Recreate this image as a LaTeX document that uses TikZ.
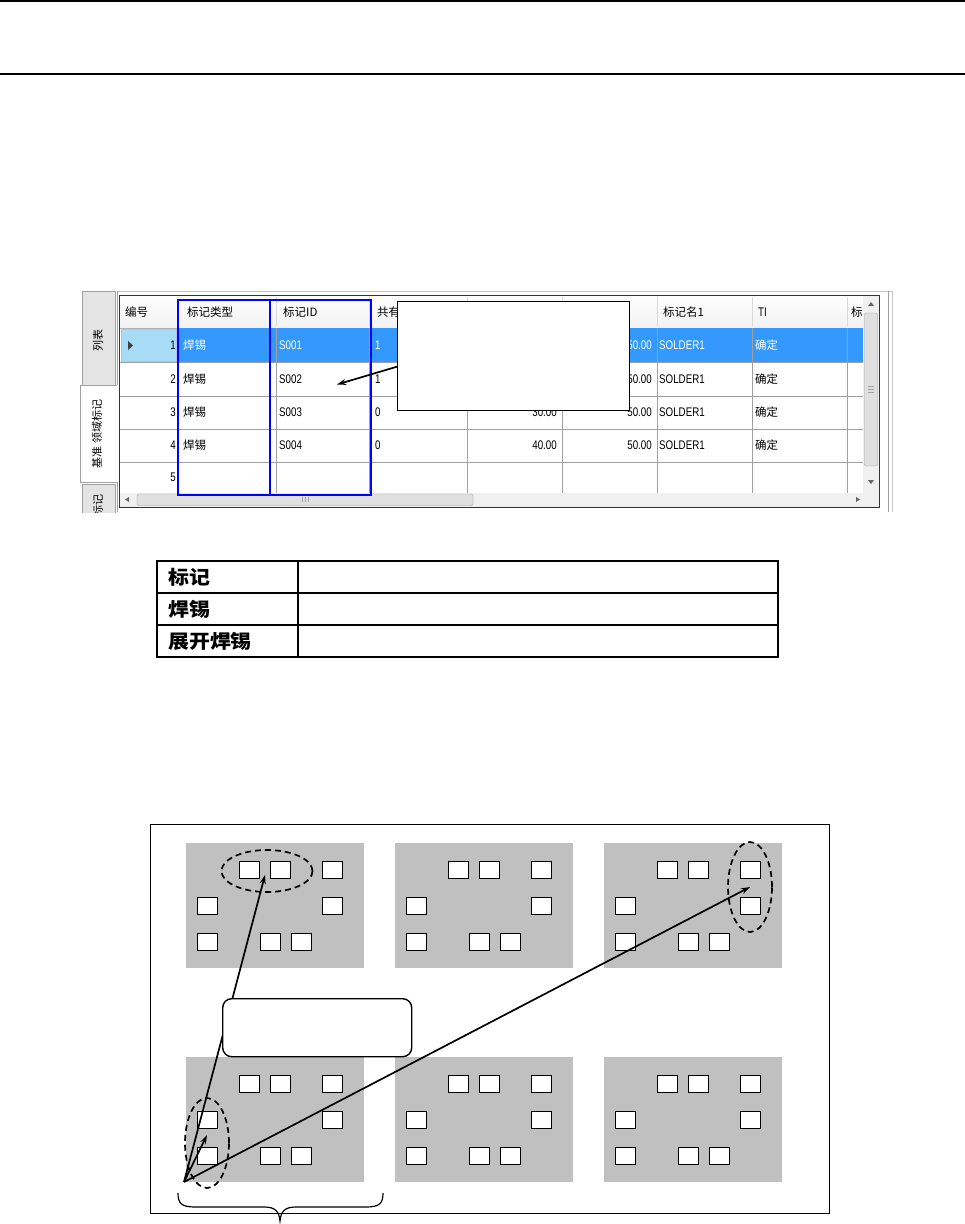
\documentclass[tikz,border=0pt]{standalone}
\usepackage{fontspec}
\usetikzlibrary{shapes.geometric,arrows.meta,calc}
\newfontfamily\cjk{Noto Sans CJK SC}
\newfontfamily\cjkwide[FakeStretch=1.1]{Noto Sans CJK SC}
\newfontfamily\uifont[FakeStretch=0.78]{Liberation Sans}
\definecolor{selblue}{HTML}{3399FF}
\definecolor{rowhdr}{HTML}{A8DCF6}
\definecolor{gridln}{HTML}{A0A0A0}
\definecolor{panelgray}{HTML}{C0C0C0}
\definecolor{tabgray}{HTML}{E4E4E4}
\definecolor{hdrbg}{HTML}{F2F2F2}
\definecolor{scrollbg}{HTML}{F0F0F0}
\definecolor{thumbc}{HTML}{E0E0E0}
\tikzset{
  panel/.style={fill=panelgray, minimum width=178, minimum height=125, inner sep=0, anchor=north west},
  pad/.style={draw=black, fill=white, line width=1.8, minimum width=20, minimum height=17, inner sep=0, anchor=north west},
  ell/.style={ellipse, draw=black, line width=1.7, dash pattern=on 6pt off 4pt, inner sep=0},
  arr/.style={line width=1.7, -{Stealth[length=9pt,width=6pt]}},
  hdrtxt/.style={font=\cjk\fontsize{11.5}{11.5}\selectfont, anchor=west, inner sep=0},
  celltxt/.style={font=\cjk\fontsize{11.5}{11.5}\selectfont, anchor=west, inner sep=0},
  numtxt/.style={font=\uifont\fontsize{12.5}{12.5}\selectfont, inner sep=0},
  tabtxt/.style={font=\cjk\fontsize{11}{11}\selectfont, rotate=90, inner sep=0},
  tbllabel/.style={font=\cjkwide\bfseries\fontsize{19}{19}\selectfont, anchor=west, inner sep=0},
}
\begin{document}
\begin{tikzpicture}[x=1pt,y=-1pt]
\useasboundingbox (0,0) rectangle (965,1224);
\fill[white] (0,0) rectangle (965,1224);

% header rules
\draw[line width=1.4] (0,1) -- (965,1) (0,74) -- (965,74);

% ================= screenshot =================
\begin{scope}
\clip (76,289) rectangle (895,512);
\draw[gridln!60] (118,291.5) -- (893,291.5);
\draw[gridln] (888,291) -- (888,512);
\draw[gridln!60] (892,291) -- (892,512);
% tabs
\draw[gridln, fill=tabgray] (82,291) rectangle (115,385);
\node[tabtxt] (tab1) at (98,340) {列表};
\draw[gridln, fill=white] (117,385) -- (80,385) -- (80,482) -- (117,482);
\node[tabtxt] (tab2) at (97,434) {基准 领域标记};
\draw[gridln, fill=tabgray] (82,484) rectangle (115,520);
\node[tabtxt, anchor=east] (tab3) at (98,494) {标记};
\draw[gridln] (117,291) -- (117,385) (117,482) -- (117,512);
% grid background
\fill[white] (119,295) rectangle (879,507);
\shade[top color=white, bottom color=hdrbg] (119,295) rectangle (863,328);
\foreach \x in {177,276,369,467,562,657,752,847} \draw[black!15] (\x,297) -- (\x,326);
\draw[gridln!80] (119,328) -- (863,328);
% selected row
\fill[selblue] (177,328) rectangle (863,362);
\draw[rowhdr!70!blue!60!white, fill=rowhdr] (121,329) rectangle (176,361);
\fill[black!75] (128,341) -- (133,345.5) -- (128,350) -- cycle;
% grid lines
\foreach \y in {362,396,429,462} \draw[gridln] (119,\y) -- (863,\y);
\foreach \x in {177,276,369,467,562,657,752,847} \draw[gridln] (\x,328) -- (\x,493);
% horizontal scrollbar
\fill[scrollbg] (119,493) rectangle (879,507);
\draw[gridln, fill=thumbc, rounded corners=2] (137,494) rectangle (473,505.5);
\foreach \x in {302,305,308} \draw[gridln] (\x,497) -- (\x,502);
\fill[black!60] (129,497) -- (125,499.5) -- (129,502) -- cycle;
\fill[black!60] (856,497) -- (860,499.5) -- (856,502) -- cycle;
% vertical scrollbar
\fill[scrollbg] (863,295) rectangle (879,493);
\draw[gridln, fill=thumbc, rounded corners=2] (864.5,313) rectangle (877.5,466);
\foreach \y in {386,389,392} \draw[gridln] (868,\y) -- (874,\y);
\fill[black!60] (868,306) -- (871,302) -- (874,306) -- cycle;
\fill[black!60] (868,480) -- (871,484) -- (874,480) -- cycle;
% border
\draw[black!80] (119,295) rectangle (879,507);
% header texts
\node[hdrtxt] (h1) at (125,312) {编号};
\node[hdrtxt] (h2) at (187,312) {标记类型};
\node[hdrtxt] (h3) at (283,312) {标记ID};
\node[hdrtxt] (h4) at (377,312) {共有};
\node[hdrtxt] (h7) at (663,312) {标记名1};
\node[numtxt, anchor=west] (h8) at (758,312) {TI};
\node[hdrtxt] (h9) at (851,312) {标};
% rows
\foreach \r/\y/\id/\sh in {1/345/S001/1, 2/379/S002/1, 3/412.5/S003/0, 4/445.5/S004/0} {
  \ifnum\r=1 \def\tc{white}\else\def\tc{black}\fi
  \node[numtxt, anchor=east] (n\r) at (176,\y) {\r};
  \node[celltxt, text=\tc] (t\r) at (183,\y) {焊锡};
  \node[numtxt, anchor=west, text=\tc] (id\r) at (279,\y) {\id};
  \node[numtxt, anchor=west, text=\tc] (sh\r) at (375,\y) {\sh};
  \node[numtxt, anchor=east, text=\tc] (v\r) at (652,\y) {50.00};
  \node[numtxt, anchor=west, text=\tc] (nm\r) at (659,\y) {SOLDER1};
  \node[celltxt, text=\tc] (ok\r) at (755,\y) {确定};
}
\node[numtxt, anchor=east] (n5) at (176,477.5) {5};
\node[numtxt, anchor=east] (w3) at (557,412.5) {30.00};
\node[numtxt, anchor=east] (w4) at (557,445.5) {40.00};
% blue frames
\draw[blue, line width=2.6] (178,300) rectangle (270,495);
\draw[blue, line width=2.6] (270,300) rectangle (371,495);
% callout
\node[draw=black, fill=white, line width=1.3, minimum width=232, minimum height=109, anchor=north west, inner sep=0] (cb) at (397,301) {};
\coordinate (a2) at (337,384.5);
\draw[arr] ([yshift=-10.5pt]cb.west) -- (a2);
\end{scope}

% ================= small table =================
\draw[line width=1.1] (157,561) rectangle (778,657);
\draw[line width=1.1] (157,593) -- (778,593) (157,625) -- (778,625) (298,561) -- (298,657);
\node[tbllabel] (L1) at (168,577.5) {标记};
\node[tbllabel] (L2) at (168,609.5) {焊锡};
\node[tbllabel] (L3) at (168,641.5) {展开焊锡};

% ================= board diagram =================
\draw[line width=1.8] (150.5,824.5) rectangle (829.5,1213.5);
\foreach \i/\px/\py in {1/186/843, 2/395/843, 3/604/843, 4/186/1057, 5/395/1057, 6/604/1057} {
  \node[panel] (P\i) at (\px,\py) {};
  \foreach \k/\rx/\ry in {1/52.5/17.5, 2/83.5/17.5, 3/135.5/17.5, 4/10.5/53.5, 5/135.5/53.5, 6/10.5/89.5, 7/73.5/89.5, 8/104.5/89.5} {
    \node[pad] (P\i-\k) at (\px+\rx,\py+\ry) {};
  }
}
\node[ell, minimum width=91, minimum height=42] (eTL) at (267,871) {};
\node[ell, minimum width=44, minimum height=90] (eTR) at (750,887) {};
\node[ell, minimum width=44, minimum height=90] (eBL) at (207,1143) {};
\coordinate (O) at (184,1182);
\coordinate (t1) at (265,875);
\coordinate (t3) at (207,1135);
\draw[arr] (O) -- (t1);
\draw[arr] (O) -- (eTR.center);
\draw[arr] (O) -- (t3);
\node[draw=black, fill=white, line width=1.4, rounded corners=9, minimum width=189, minimum height=58, anchor=north west, inner sep=0] (cl) at (222,998) {};
% brace
\draw[line width=1.2] (178,1193) .. controls (178,1203) and (181,1207) .. (195,1207) -- (264,1207) .. controls (275,1207) and (279,1211) .. (280,1221) .. controls (281,1211) and (285,1207) .. (296,1207) -- (366,1207) .. controls (380,1207) and (383,1203) .. (383,1193);
\end{tikzpicture}
\end{document}
